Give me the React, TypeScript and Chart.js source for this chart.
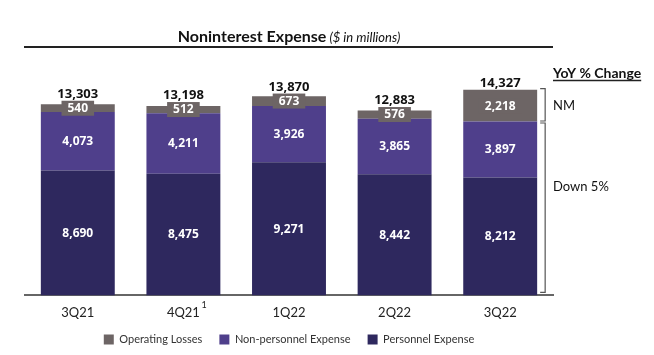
import React, { useEffect, useRef } from "react";
import { Chart, registerables } from "chart.js";

Chart.register(...registerables);

const categories = ["3Q21", "4Q21", "1Q22", "2Q22", "3Q22"];
const personnelExpense = [8690, 8475, 9271, 8442, 8212];
const nonPersonnelExpense = [4073, 4211, 3926, 3865, 3897];
const operatingLosses = [540, 512, 673, 576, 2218];
const totals = [13303, 13198, 13870, 12883, 14327];
const seriesNames = ["Personnel Expense", "Non-personnel Expense", "Operating Losses"];
const yoyLabels = ["NM", "Down 5%"];

const C_PERS = "#2E285E";
const C_NONP = "#4F3F8B";
const C_OPL = "#6D6565";
const FONT = "Lato, 'Open Sans', sans-serif";
const NUMFONT = "'Open Sans', Lato, sans-serif";

const fmt = (v: number) => v.toLocaleString("en-US");

const overlay = {
  id: "overlay",
  afterDatasetsDraw(chart: any) {
    const ctx = chart.ctx;
    const area = chart.chartArea;
    ctx.save();
    chart.data.datasets.forEach((ds: any, di: number) => {
      const meta = chart.getDatasetMeta(di);
      meta.data.forEach((bar: any, i: number) => {
        const cy = (bar.y + bar.base) / 2;
        const text = fmt(ds.data[i]);
        ctx.font = `bold 12px ${NUMFONT}`;
        if (di === 2) {
          const w = ctx.measureText(text).width + 12;
          const h = 15;
          ctx.fillStyle = C_OPL;
          ctx.fillRect(bar.x - w / 2, cy - h / 2, w, h);
        }
        ctx.fillStyle = "#ffffff";
        ctx.textAlign = "center";
        ctx.textBaseline = "middle";
        ctx.fillText(text, bar.x, cy + 0.5);
      });
    });
    const topMeta = chart.getDatasetMeta(2);
    topMeta.data.forEach((bar: any, i: number) => {
      const boxTop = Math.min(bar.y, (bar.y + bar.base) / 2 - 7.5);
      ctx.font = `bold 13px ${NUMFONT}`;
      ctx.fillStyle = "#111";
      ctx.textAlign = "center";
      ctx.textBaseline = "alphabetic";
      ctx.fillText(fmt(totals[i]), bar.x, boxTop - 3);
    });
    const xs = chart.scales.x;
    ctx.font = `9px ${FONT}`;
    ctx.fillStyle = "#222";
    ctx.textAlign = "left";
    ctx.fillText("1", xs.getPixelForValue(1) + 18, area.bottom + 13);

    const t1 = "Noninterest Expense";
    const t2 = " ($ in millions)";
    ctx.font = `bold 16px ${FONT}`;
    const w1 = ctx.measureText(t1).width;
    ctx.font = `italic 13px ${FONT}`;
    const w2 = ctx.measureText(t2).width;
    const tx = 289 - (w1 + w2) / 2;
    ctx.textAlign = "left";
    ctx.textBaseline = "alphabetic";
    ctx.fillStyle = "#111";
    ctx.font = `bold 16px ${FONT}`;
    ctx.fillText(t1, tx, 42);
    ctx.font = `italic 13px ${FONT}`;
    ctx.fillText(t2, tx + w1, 42);
    ctx.strokeStyle = "#222";
    ctx.lineWidth = 2;
    ctx.beginPath();
    ctx.moveTo(24, 47);
    ctx.lineTo(area.right, 47);
    ctx.stroke();

    const hx = 553;
    ctx.font = `bold 14px ${FONT}`;
    ctx.fillStyle = "#111";
    ctx.fillText("YoY % Change", hx, 78);
    const hw = ctx.measureText("YoY % Change").width;
    ctx.lineWidth = 1.5;
    ctx.beginPath();
    ctx.moveTo(hx, 80.5);
    ctx.lineTo(hx + hw, 80.5);
    ctx.stroke();

    const last = categories.length - 1;
    const bOp = chart.getDatasetMeta(2).data[last];
    const bNp = chart.getDatasetMeta(1).data[last];
    const bP = chart.getDatasetMeta(0).data[last];
    const bx = bOp.x + bOp.width / 2;
    const drawBracket = (y1: number, y2: number) => {
      ctx.strokeStyle = "#555";
      ctx.lineWidth = 1.2;
      ctx.beginPath();
      ctx.moveTo(bx + 3, y1);
      ctx.lineTo(bx + 8, y1);
      ctx.lineTo(bx + 8, y2);
      ctx.lineTo(bx + 3, y2);
      ctx.stroke();
    };
    drawBracket(bOp.y - 1, bOp.base - 0.5);
    drawBracket(bNp.y + 1.5, bP.base - 3);
    ctx.font = `13px ${FONT}`;
    ctx.fillStyle = "#111";
    ctx.textBaseline = "middle";
    ctx.fillText(yoyLabels[0], hx, (bOp.y + bOp.base) / 2);
    ctx.fillText(yoyLabels[1], hx, 187);
    ctx.restore();
  },
};

export default function App() {
  const ref = useRef<HTMLCanvasElement>(null);
  useEffect(() => {
    if (!ref.current) return;
    const chart = new Chart(ref.current, {
      type: "bar",
      data: {
        labels: categories,
        datasets: [
          { label: seriesNames[0], data: personnelExpense, backgroundColor: C_PERS },
          { label: seriesNames[1], data: nonPersonnelExpense, backgroundColor: C_NONP },
          { label: seriesNames[2], data: operatingLosses, backgroundColor: C_OPL },
        ],
      },
      options: {
        responsive: false,
        animation: false,
        layout: { padding: { left: 25, right: 101, top: 80, bottom: 0 } },
        datasets: { bar: { barPercentage: 0.7, categoryPercentage: 1 } },
        scales: {
          x: {
            stacked: true,
            grid: { display: false, drawTicks: false },
            border: { display: true, color: "#666", width: 2 },
            ticks: { color: "#222", font: { family: FONT, size: 13 }, padding: 10 },
          },
          y: { stacked: true, display: false, min: 0, max: 15000 },
        },
        plugins: {
          legend: {
            position: "bottom",
            reverse: true,
            labels: {
              boxWidth: 10,
              boxHeight: 10,
              padding: 3,
              color: "#333",
              font: { family: FONT, size: 11 },
              generateLabels: (chart: any) =>
                Chart.defaults.plugins.legend.labels
                  .generateLabels(chart)
                  .map((l: any) => (l.datasetIndex !== 0 ? { ...l, text: l.text + "     " } : l)),
            },
          },
          tooltip: { enabled: false },
        },
      },
      plugins: [overlay],
    });
    return () => chart.destroy();
  }, []);
  return (
    <div style={{ position: "fixed", left: 0, top: 0, width: 654, height: 355, background: "#fff" }}>
      <canvas ref={ref} width={654} height={355} />
    </div>
  );
}
